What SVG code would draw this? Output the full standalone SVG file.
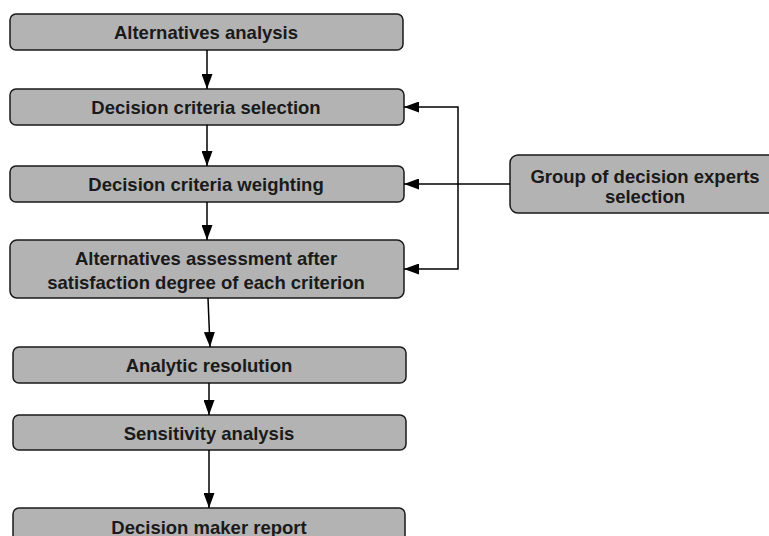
<svg xmlns="http://www.w3.org/2000/svg" width="769" height="536" viewBox="0 0 769 536">
<style>
.box{fill:#b3b3b3;stroke:#1a1a1a;stroke-width:1.5}
.t{font-family:"Liberation Sans",Arial,sans-serif;font-weight:bold;font-size:18.5px;fill:#1a1a1a;text-anchor:middle}
.c{fill:none;stroke:#000;stroke-width:1.5}
</style>
<defs>
<marker id="ah" markerWidth="15" markerHeight="11" refX="15" refY="5.5" orient="auto" markerUnits="userSpaceOnUse">
<path d="M0,0 L15,5.5 L0,11 Z" fill="#000"/>
</marker>
</defs>
<rect width="769" height="536" fill="#fff"/>
<g id="n1"><rect class="box" x="10" y="14" width="393" height="36" rx="6"/><text class="t" x="206" y="38.5">Alternatives analysis</text></g>
<g id="n2"><rect class="box" x="10" y="89" width="394" height="36" rx="6"/><text class="t" x="206" y="114">Decision criteria selection</text></g>
<g id="n3"><rect class="box" x="10" y="166" width="394" height="36" rx="6"/><text class="t" x="206" y="191">Decision criteria weighting</text></g>
<g id="n4"><rect class="box" x="10" y="240" width="394" height="58" rx="7"/><text class="t" x="206" y="264.5">Alternatives assessment after</text><text class="t" x="206" y="288.5">satisfaction degree of each criterion</text></g>
<g id="n5"><rect class="box" x="13" y="347" width="393" height="36" rx="6"/><text class="t" x="209" y="371.5">Analytic resolution</text></g>
<g id="n6"><rect class="box" x="13" y="415" width="393" height="35" rx="6"/><text class="t" x="209" y="439.5">Sensitivity analysis</text></g>
<g id="n7"><rect class="box" x="13" y="508" width="392" height="40" rx="6"/><text class="t" x="209" y="533.5">Decision maker report</text></g>
<g id="n8"><rect class="box" x="510" y="155" width="270" height="58" rx="8"/><text class="t" x="645" y="183">Group of decision experts</text><text class="t" x="645" y="203">selection</text></g>
<g id="connectors">
<line class="c" x1="207" y1="50" x2="207" y2="89" marker-end="url(#ah)"/>
<line class="c" x1="207" y1="125" x2="207" y2="166" marker-end="url(#ah)"/>
<line class="c" x1="207" y1="202" x2="207" y2="240" marker-end="url(#ah)"/>
<line class="c" x1="208" y1="298" x2="210" y2="347" marker-end="url(#ah)"/>
<line class="c" x1="209" y1="383" x2="209" y2="415" marker-end="url(#ah)"/>
<line class="c" x1="209" y1="450" x2="209" y2="508" marker-end="url(#ah)"/>
<line class="c" x1="510" y1="184" x2="404" y2="184" marker-end="url(#ah)"/>
<polyline class="c" points="458,184 458,107 404,107" marker-end="url(#ah)"/>
<polyline class="c" points="458,184 458,269 404,269" marker-end="url(#ah)"/>
</g>
</svg>
